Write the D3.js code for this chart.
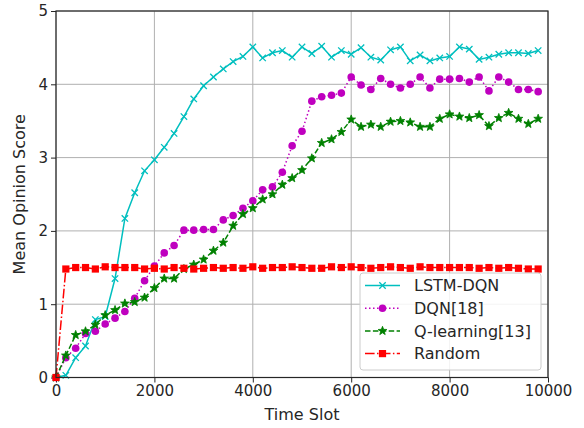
<!DOCTYPE html>
<html>
<head>
<meta charset="utf-8">
<script src="https://cdn.jsdelivr.net/npm/d3@7/dist/d3.min.js"></script>
<style>
html,body{margin:0;padding:0;background:#fff;}
svg{display:block;font-family:"DejaVu Sans",sans-serif;}
</style>
</head>
<body>
<svg id="chart" width="584" height="428"></svg>
<script>
// ---- data ----
const timeSlots = d3.range(0, 10000, 200); // 0..9800
const lstmDqn = [0.00,0.03,0.27,0.43,0.79,0.83,1.35,2.17,2.52,2.82,
  2.97,3.14,3.33,3.56,3.80,3.98,4.10,4.21,4.31,4.38,
  4.51,4.36,4.43,4.46,4.37,4.51,4.42,4.52,4.37,4.46,
  4.41,4.50,4.37,4.33,4.47,4.51,4.32,4.40,4.32,4.36,
  4.38,4.51,4.48,4.34,4.37,4.41,4.43,4.43,4.42,4.46];
const dqn = [0.00,0.27,0.40,0.60,0.63,0.73,0.81,0.90,1.08,1.32,
  1.52,1.70,1.80,2.01,2.01,2.02,2.02,2.15,2.21,2.31,
  2.41,2.56,2.60,2.80,3.16,3.36,3.77,3.83,3.85,3.88,
  4.10,3.99,3.93,4.08,4.00,3.95,4.00,4.10,3.95,4.07,
  4.07,4.08,4.03,4.10,3.91,4.10,4.03,3.93,3.93,3.90];
const qLearning = [0.00,0.30,0.58,0.63,0.72,0.85,0.92,1.01,1.03,1.09,
  1.22,1.35,1.35,1.48,1.54,1.61,1.73,1.84,2.07,2.23,
  2.31,2.43,2.50,2.63,2.72,2.83,2.99,3.20,3.25,3.35,
  3.52,3.42,3.45,3.42,3.49,3.50,3.48,3.42,3.42,3.53,
  3.59,3.56,3.54,3.58,3.43,3.54,3.61,3.53,3.46,3.53];
const random = [0.00,1.48,1.50,1.50,1.48,1.51,1.50,1.50,1.50,1.48,
  1.49,1.48,1.50,1.49,1.48,1.49,1.50,1.49,1.50,1.49,
  1.51,1.49,1.50,1.50,1.51,1.50,1.49,1.49,1.51,1.50,
  1.51,1.50,1.49,1.50,1.51,1.50,1.49,1.51,1.50,1.50,
  1.50,1.50,1.50,1.49,1.50,1.49,1.50,1.49,1.48,1.48];
const seriesNames = ["LSTM-DQN","DQN[18]","Q-learning[13]","Random"];
const xTicks = [0,2000,4000,6000,8000,10000];
const yTicks = [0,1,2,3,4,5];

// ---- layout ----
const svg = d3.select("#chart");
const L = 56, R = 548, T = 11, B = 377.5;
const x = d3.scaleLinear().domain([0,10000]).range([L,R]);
const y = d3.scaleLinear().domain([0,5]).range([B,T]);

// grid
const grid = svg.append("g");
grid.selectAll("line.gx").data(xTicks).enter().append("line")
  .attr("x1",d=>x(d)).attr("x2",d=>x(d)).attr("y1",T).attr("y2",B)
  .attr("stroke","#b0b0b0").attr("stroke-width",1);
grid.selectAll("line.gy").data(yTicks).enter().append("line")
  .attr("x1",L).attr("x2",R).attr("y1",d=>y(d)).attr("y2",d=>y(d))
  .attr("stroke","#b0b0b0").attr("stroke-width",1);

// axes
const xAxis = svg.append("g").attr("transform",`translate(0,${B})`)
  .call(d3.axisBottom(x).tickValues(xTicks).tickFormat(d3.format("d")).tickSize(5).tickPadding(3));
const yAxis = svg.append("g").attr("transform",`translate(${L},0)`)
  .call(d3.axisLeft(y).tickValues(yTicks).tickFormat(d3.format("d")).tickSize(5).tickPadding(3));
[xAxis,yAxis].forEach(a=>{
  a.select(".domain").remove();
  a.selectAll("text").attr("font-family","DejaVu Sans").attr("font-size",15).attr("fill","#262626");
  a.selectAll("line").attr("stroke","#262626");
});

// series definitions
const styles = [
  {data:lstmDqn, color:"#00bfbf", dash:null, marker:"x"},
  {data:dqn, color:"#bf00bf", dash:"1.5,2.5", marker:"o"},
  {data:qLearning, color:"#008000", dash:"5.5,2.4", marker:"*"},
  {data:random, color:"#ff0000", dash:"9.6,2.4,1.5,2.4", marker:"s"}
];

function starPath(r){
  const pts=[];
  for(let i=0;i<10;i++){
    const a = -Math.PI/2 + i*Math.PI/5;
    const rr = i%2===0 ? r : r*0.42;
    pts.push([rr*Math.cos(a), rr*Math.sin(a)]);
  }
  return "M"+pts.map(p=>p[0].toFixed(2)+","+p[1].toFixed(2)).join("L")+"Z";
}
function drawMarker(g, type, color, cx, cy){
  if(type==="x"){
    const s=3.2;
    g.append("path").attr("d",`M${cx-s},${cy-s}L${cx+s},${cy+s}M${cx-s},${cy+s}L${cx+s},${cy-s}`)
      .attr("stroke",color).attr("stroke-width",1.3).attr("fill","none");
  } else if(type==="o"){
    g.append("circle").attr("cx",cx).attr("cy",cy).attr("r",3.8).attr("fill",color);
  } else if(type==="*"){
    g.append("path").attr("d",starPath(4.6)).attr("transform",`translate(${cx},${cy})`)
      .attr("fill",color).attr("stroke",color).attr("stroke-width",0.8);
  } else if(type==="s"){
    g.append("rect").attr("x",cx-3.6).attr("y",cy-3.6).attr("width",7.2).attr("height",7.2).attr("fill",color);
  }
}

const plot = svg.append("g");
const line = d3.line().x((d,i)=>x(timeSlots[i])).y(d=>y(d));
styles.forEach(s=>{
  const g = plot.append("g");
  g.append("path").datum(s.data).attr("d",line)
    .attr("fill","none").attr("stroke",s.color).attr("stroke-width",1.5)
    .attr("stroke-dasharray",s.dash);
  s.data.forEach((v,i)=>drawMarker(g,s.marker,s.color,x(timeSlots[i]),y(v)));
});

// frame
svg.append("rect").attr("x",L).attr("y",T).attr("width",R-L).attr("height",B-T)
  .attr("fill","none").attr("stroke","#262626").attr("stroke-width",1.2);

// axis labels
svg.append("text").attr("x",(L+R)/2).attr("y",420).attr("text-anchor","middle")
  .attr("font-size",16).attr("fill","#262626").text("Time Slot");
svg.append("text").attr("transform",`translate(25,${(T+B)/2}) rotate(-90)`)
  .attr("text-anchor","middle").attr("font-size",16).attr("fill","#262626").text("Mean Opinion Score");

// legend
const lg = svg.append("g");
lg.append("rect").attr("x",360).attr("y",273).attr("width",181).attr("height",97)
  .attr("rx",3).attr("fill","#fff").attr("fill-opacity",0.85).attr("stroke","#cccccc");
styles.forEach((s,i)=>{
  const cy = 285.5 + i*22.7;
  lg.append("line").attr("x1",365).attr("x2",400).attr("y1",cy).attr("y2",cy)
    .attr("stroke",s.color).attr("stroke-width",1.5).attr("stroke-dasharray",s.dash);
  drawMarker(lg,s.marker,s.color,382.5,cy);
  lg.append("text").attr("x",414).attr("y",cy+5.6).attr("font-size",16).attr("fill","#262626").text(seriesNames[i]);
});
</script>
</body>
</html>
